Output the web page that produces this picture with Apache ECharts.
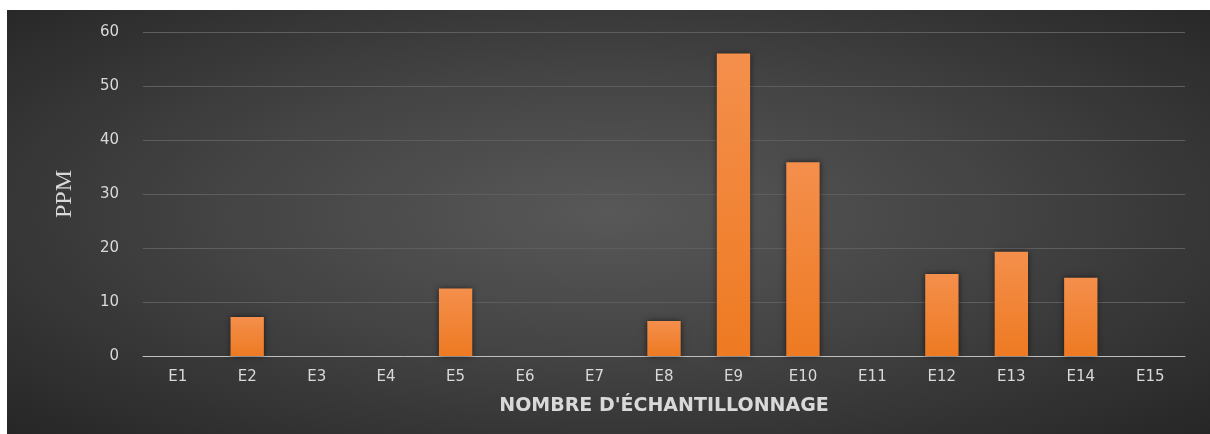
<!DOCTYPE html>
<html>
<head>
<meta charset="utf-8">
<script src="https://cdn.jsdelivr.net/npm/echarts@6/dist/echarts.min.js"></script>
<style>
html,body{margin:0;padding:0;background:#ffffff;}
#c{position:absolute;left:7px;top:10px;width:1203px;height:424px;
  background: radial-gradient(ellipse farthest-corner at 50% 48%, #585858 0%, #444444 45%, #262626 100%);}
</style>
</head>
<body>
<div id="c"></div>
<script>
var categories = ['E1','E2','E3','E4','E5','E6','E7','E8','E9','E10','E11','E12','E13','E14','E15'];
var ppmValues = [0, 7.2, 0, 0, 12.5, 0, 0, 6.5, 56, 35.9, 0, 15.2, 19.3, 14.5, 0];
var yTicks = [0, 10, 20, 30, 40, 50, 60];
var xTitle = "NOMBRE D'ÉCHANTILLONNAGE";
var yTitle = 'PPM';

var chart = echarts.init(document.getElementById('c'));
chart.setOption({
  backgroundColor: 'transparent',
  animation: false,
  grid: {left: 136, right: 25, top: 22, bottom: 78},
  xAxis: {
    type: 'category',
    data: categories,
    name: xTitle,
    nameLocation: 'middle',
    nameGap: 41,
    nameTextStyle: {color: '#d9d9d9', fontSize: 19, fontWeight: 'bold', fontFamily: 'DejaVu Sans'},
    axisLine: {lineStyle: {color: '#bfbfbf', width: 1}},
    axisTick: {show: false},
    axisLabel: {color: '#d9d9d9', fontSize: 15, fontFamily: 'DejaVu Sans', margin: 14}
  },
  yAxis: {
    type: 'value',
    min: yTicks[0], max: yTicks[yTicks.length - 1], interval: 10,
    name: yTitle,
    nameLocation: 'middle',
    nameGap: 66,
    nameTextStyle: {color: '#d9d9d9', fontSize: 24, fontFamily: 'Liberation Serif'},
    axisLine: {show: false},
    axisTick: {show: false},
    axisLabel: {color: '#d9d9d9', fontSize: 15, fontFamily: 'DejaVu Sans', margin: 24},
    splitLine: {lineStyle: {color: '#5e5e5e', width: 1}}
  },
  series: [{
    type: 'bar',
    data: ppmValues,
    barCategoryGap: '52%',
    itemStyle: {
      color: {
        type: 'linear', x: 0, y: 0, x2: 0, y2: 1,
        colorStops: [{offset: 0, color: '#f48f4c'}, {offset: 1, color: '#ee7a22'}]
      },
      shadowColor: 'rgba(0,0,0,0.6)',
      shadowBlur: 6
    }
  }]
});
</script>
</body>
</html>
